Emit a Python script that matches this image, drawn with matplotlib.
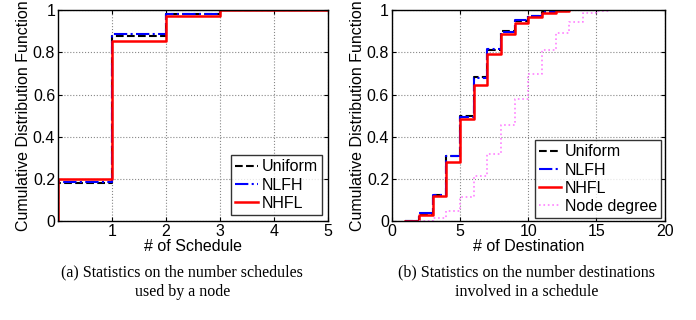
import numpy as np
import matplotlib
matplotlib.use("Agg")
import matplotlib.pyplot as plt

plt.rcParams["font.family"] = ["Liberation Sans", "DejaVu Sans"]

# (a) number of schedules used by a node
sched_x = [0, 0, 1, 2, 3, 4, 5]
sched_uniform = [0, 0.18, 0.88, 0.98, 1.0, 1.0, 1.0]
sched_nlfh = [0, 0.185, 0.885, 0.982, 1.0, 1.0, 1.0]
sched_nhfl = [0, 0.20, 0.855, 0.975, 1.0, 1.0, 1.0]

# (b) number of destinations involved in a schedule
dest_x = [1, 2, 3, 4, 5, 6, 7, 8, 9, 10, 11, 12, 13]
dest_uniform = [0, 0.035, 0.125, 0.31, 0.50, 0.685, 0.81, 0.90, 0.95, 0.975, 0.99, 0.995, 1.0]
dest_nlfh = [0, 0.04, 0.125, 0.31, 0.495, 0.68, 0.815, 0.895, 0.955, 0.975, 0.99, 0.995, 1.0]
dest_nhfl = [0, 0.03, 0.118, 0.278, 0.483, 0.645, 0.793, 0.887, 0.94, 0.97, 0.985, 0.995, 1.0]
deg_x = [2, 3, 4, 5, 6, 7, 8, 9, 10, 11, 12, 13, 14, 15, 16, 17]
deg_cdf = [0, 0.015, 0.05, 0.115, 0.215, 0.32, 0.455, 0.58, 0.70, 0.81, 0.89, 0.945, 0.985, 0.995, 1.0, 1.0]

FS = 11.5

fig = plt.figure(figsize=(6.96, 3.2), dpi=100)
ax1 = fig.add_axes([0.0833, 0.309, 0.388, 0.659])
ax2 = fig.add_axes([0.563, 0.309, 0.392, 0.659])

def style(ax, xlim, xticks, xlabel):
    ax.set_xlim(*xlim); ax.set_ylim(0, 1)
    ax.set_xticks(xticks); ax.set_yticks([0, 0.2, 0.4, 0.6, 0.8, 1])
    ax.set_yticklabels(["0", "0.2", "0.4", "0.6", "0.8", "1"])
    ax.tick_params(direction="in", labelsize=FS, length=3, top=True, right=True, pad=2)
    ax.grid(True, linestyle=":", color="#888888", linewidth=0.8)
    ax.set_xlabel(xlabel, fontsize=FS, labelpad=0)
    ax.set_ylabel("Cumulative Distribution Function", fontsize=FS, labelpad=1)
    for s in ax.spines.values():
        s.set_linewidth(1.0)

leg_kw = dict(loc="lower right", fontsize=FS, frameon=True, fancybox=False, edgecolor="black",
              handlelength=1.4, handletextpad=0.25, borderpad=0.25, labelspacing=0.2)

ax1.step(sched_x, sched_uniform, where="post", color="black", ls="--", lw=1.5, label="Uniform")
ax1.step(sched_x, sched_nlfh, where="post", color="blue", ls="-.", lw=1.5, label="NLFH")
ax1.step(sched_x, sched_nhfl, where="post", color="red", ls="-", lw=1.8, label="NHFL")
style(ax1, (0, 5), [1, 2, 3, 4, 5], "# of Schedule")
ax1.legend(borderaxespad=0.4, **leg_kw).get_frame().set_linewidth(1.0)

ax2.step(dest_x, dest_uniform, where="post", color="black", ls="--", lw=1.5, label="Uniform")
ax2.step(dest_x, dest_nlfh, where="post", color="blue", ls="-.", lw=1.5, label="NLFH")
ax2.step(dest_x, dest_nhfl, where="post", color="red", ls="-", lw=1.8, label="NHFL")
ax2.step(deg_x, deg_cdf, where="post", color="#ff80ff", ls=":", lw=1.2, label="Node degree")
style(ax2, (0, 20), [0, 5, 10, 15, 20], "# of Destination")
ax2.legend(borderaxespad=0.2, **leg_kw).get_frame().set_linewidth(1.0)

cap = dict(ha="center", va="top", fontsize=11.5, family=["Liberation Serif", "DejaVu Serif"],
           linespacing=1.35)
fig.text(0.262, 0.175, "(a) Statistics on the number schedules\nused by a node", **cap)
fig.text(0.757, 0.175, "(b) Statistics on the number destinations\ninvolved in a schedule", **cap)

fig.savefig("out.png", dpi=100)
